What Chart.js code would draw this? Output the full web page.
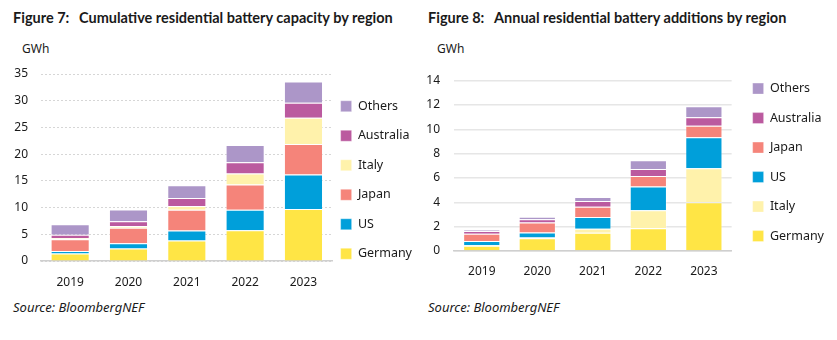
<!DOCTYPE html>
<html>
<head>
<meta charset="utf-8">
<script src="https://cdn.jsdelivr.net/npm/chart.js@4.4.1/dist/chart.umd.min.js"></script>
<style>
  body { margin: 0; background: #fff; font-family: "Noto Sans", sans-serif; color: #1a1a1a; }
  .page { position: relative; width: 837px; height: 340px; overflow: hidden; }
  .title { position: absolute; top: 9px; font-family: Lato, sans-serif; font-weight: bold; font-size: 14.5px; white-space: nowrap; }
  .title .fig { display: inline-block; width: 66px; }
  .unit { position: absolute; top: 40px; font-size: 12px; }
  .source { position: absolute; top: 298px; font-style: italic; font-size: 13px; }
  canvas { position: absolute; }
</style>
</head>
<body>
<div class="page">
  <div class="title" style="left:13px"><span class="fig">Figure 7:</span>Cumulative residential battery capacity by region</div>
  <div class="title" style="left:428px"><span class="fig">Figure 8:</span>Annual residential battery additions by region</div>
  <div class="unit" style="left:22px">GWh</div>
  <div class="unit" style="left:437px">GWh</div>
  <div class="source" style="left:13px">Source: BloombergNEF</div>
  <div class="source" style="left:428px">Source: BloombergNEF</div>
  <canvas id="cumChart" style="left:0;top:60px"></canvas>
  <canvas id="annChart" style="left:420px;top:60px"></canvas>
</div>
<script>
// Years on the x axis
const years = ['2019', '2020', '2021', '2022', '2023'];

// Cumulative capacity, GWh (Figure 7)
const cumGermany   = [1.40, 2.35, 3.85, 5.75, 9.75];
const cumUS        = [0.45, 0.95, 1.85, 3.85, 6.45];
const cumJapan     = [2.20, 2.90, 3.90, 4.70, 5.70];
const cumItaly     = [0.25, 0.35, 0.70, 2.10, 4.90];
const cumAustralia = [0.60, 0.90, 1.50, 2.10, 2.80];
const cumOthers    = [2.00, 2.20, 2.40, 3.20, 4.00];
const cumTicks     = [0, 5, 10, 15, 20, 25, 30, 35];

// Annual additions, GWh (Figure 8)
const annGermany   = [0.43, 1.04, 1.50, 1.86, 4.00];
const annItaly     = [0.05, 0.06, 0.33, 1.48, 2.80];
const annUS        = [0.34, 0.43, 0.96, 1.96, 2.55];
const annJapan     = [0.60, 0.82, 0.84, 0.87, 0.95];
const annAustralia = [0.22, 0.25, 0.49, 0.58, 0.70];
const annOthers    = [0.08, 0.21, 0.31, 0.71, 0.90];
const annTicks     = [0, 2, 4, 6, 8, 10, 12, 14];

const colors = {
  Germany: '#ffe545',
  US: '#009fda',
  Japan: '#f5847a',
  Italy: '#fff2ab',
  Australia: '#bb5a9f',
  Others: '#ac96c8'
};

const textColor = '#1a1a1a';
const baseFont = { family: '"Noto Sans", sans-serif', size: 12 };

// nudges the legend block after layout so it sits beside the bars
const legendNudge = {
  id: 'legendNudge',
  afterLayout(chart, args, opts) {
    const lg = chart.legend;
    lg.left += opts.dx || 0;
    lg.right += opts.dx || 0;
    lg.top += opts.dy || 0;
    lg.bottom += opts.dy || 0;
  }
};

function series(label, data) {
  return {
    label: label,
    data: data,
    backgroundColor: colors[label],
    borderColor: 'rgba(255,255,255,0.35)',
    borderWidth: 1,
    barPercentage: 0.67,
    categoryPercentage: 1
  };
}

function makeChart(canvas, w, h, datasets, ticks, opts) {
  canvas.width = w;
  canvas.height = h;
  canvas.style.width = w + 'px';
  canvas.style.height = h + 'px';
  return new Chart(canvas, {
    type: 'bar',
    data: { labels: years, datasets: datasets },
    plugins: [legendNudge],
    options: {
      responsive: false,
      animation: false,
      layout: { padding: { top: opts.top, right: 0, bottom: 0, left: 0 } },
      plugins: {
        tooltip: { enabled: false },
        legendNudge: { dx: opts.legendDx, dy: opts.legendDy },
        legend: {
          position: 'right',
          reverse: true,
          align: 'center',
          labels: {
            color: textColor,
            font: { family: baseFont.family, size: 12.5 },
            boxWidth: 11,
            boxHeight: 11,
            padding: 17
          }
        }
      },
      scales: {
        x: {
          stacked: true,
          grid: { display: false, drawTicks: false },
          border: { display: true, color: '#cfcfcf', width: 1.5 },
          ticks: { color: textColor, font: baseFont, padding: opts.xPad },
          afterFit: s => { s.height = opts.xHeight; }
        },
        y: {
          stacked: true,
          min: 0,
          max: ticks[ticks.length - 1],
          afterBuildTicks: s => { s.ticks = ticks.map(v => ({ value: v })); },
          grid: { color: opts.gridColor, lineWidth: opts.gridWidth, drawTicks: false },
          border: { display: false, dash: opts.dash },
          ticks: { color: textColor, font: baseFont, padding: opts.yPad },
          afterFit: s => {
            s.width = opts.yWidth;
            s.paddingTop = 0;
            s.paddingBottom = 0;
          }
        }
      }
    }
  });
}

makeChart(document.getElementById('cumChart'), 431, 240, [
  series('Germany', cumGermany),
  series('US', cumUS),
  series('Japan', cumJapan),
  series('Italy', cumItaly),
  series('Australia', cumAustralia),
  series('Others', cumOthers)
], cumTicks, { top: 14, xPad: 14, xHeight: 39, yPad: 13, yWidth: 41, gridColor: '#d6d6d6', gridWidth: 1, dash: [2, 2], legendDx: -9, legendDy: -7 });

makeChart(document.getElementById('annChart'), 410, 240, [
  series('Germany', annGermany),
  series('Italy', annItaly),
  series('US', annUS),
  series('Japan', annJapan),
  series('Australia', annAustralia),
  series('Others', annOthers)
], annTicks, { top: 20.7, xPad: 13, xHeight: 49, yPad: 14, yWidth: 34, gridColor: '#e6e6e6', gridWidth: 1.5, dash: [], legendDx: 4, legendDy: -28 });
</script>
</body>
</html>
